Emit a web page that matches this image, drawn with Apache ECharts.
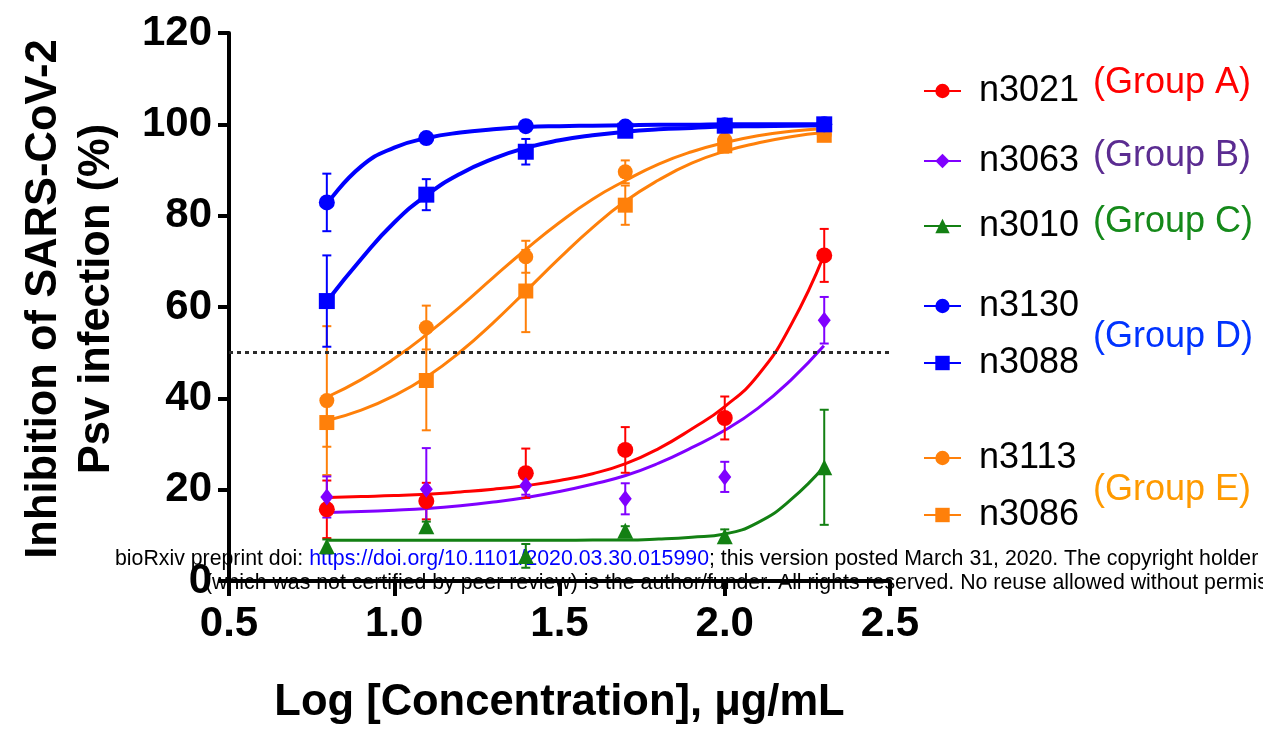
<!DOCTYPE html>
<html>
<head>
<meta charset="utf-8">
<script src="https://cdn.jsdelivr.net/npm/echarts@6/dist/echarts.min.js"></script>
<style>
  html, body { margin: 0; padding: 0; background: #ffffff; }
  #chart { width: 1263px; height: 730px; }
</style>
</head>
<body>
<div id="chart"></div>
<script>
// log10 of the tested concentrations (µg/mL)
const logConc = [0.796, 1.097, 1.398, 1.699, 2.0, 2.301];
// x positions at which the fitted dose-response curves are sampled
const fitX = [0.8, 0.9, 1.0, 1.1, 1.2, 1.3, 1.4, 1.5, 1.6, 1.7, 1.8, 1.9, 2.0, 2.1, 2.2, 2.3];

// mean inhibition (%), SD, and fitted curve per sample
const n3021Mean = [15.7, 17.5, 23.6, 28.7, 35.7, 71.3];
const n3021Sd   = [6.3, 4.0, 5.4, 5.0, 4.7, 5.8];
const n3021Fit  = [18.3, 18.5, 18.7, 19.0, 19.5, 20.1, 20.9, 22.0, 23.5, 25.7, 29.0, 33.3, 38.2, 45.0, 56.0, 71.3];

const n3063Mean = [18.4, 20.1, 20.9, 18.0, 22.8, 57.1];
const n3063Sd   = [4.5, 9.0, 2.0, 3.4, 3.3, 5.1];
const n3063Fit  = [15.0, 15.2, 15.5, 15.9, 16.5, 17.3, 18.3, 19.6, 21.2, 23.1, 25.8, 29.2, 33.0, 37.8, 44.0, 51.5];

const n3010Mean = [7.6, 12.0, 5.5, 11.0, 9.8, 24.9];
const n3010Sd   = [1.5, 1.0, 2.6, 1.0, 1.5, 12.6];
const n3010Fit  = [8.9, 8.9, 8.9, 8.9, 8.9, 8.9, 8.9, 8.9, 9.0, 9.0, 9.2, 9.6, 10.3, 12.8, 17.8, 25.0];

const n3130Mean = [82.9, 97.0, 99.6, 99.5, 99.8, 100.0];
const n3130Sd   = [6.3, 1.0, 0.6, 0.6, 0.4, 0.3];
const n3130Fit  = [82.9, 90.8, 94.9, 97.0, 98.2, 98.9, 99.4, 99.6, 99.7, 99.8, 99.9, 99.9, 100, 100, 100, 100];

const n3088Mean = [61.3, 84.6, 94.0, 98.6, 99.7, 100.0];
const n3088Sd   = [10.0, 3.4, 2.8, 1.2, 0.6, 0.5];
const n3088Fit  = [61.6, 70.5, 78.5, 84.6, 89.2, 92.5, 94.9, 96.5, 97.6, 98.4, 98.9, 99.2, 99.5, 99.6, 99.7, 99.8];

const n3113Mean = [39.5, 55.5, 71.0, 89.6, 96.6, 97.8];
const n3113Sd   = [16.3, 4.8, 3.5, 2.5, 1.0, 1.0];
const n3113Fit  = [40.4, 44.1, 48.7, 54.1, 60.1, 66.5, 72.7, 78.5, 83.6, 87.7, 91.3, 94.0, 96.0, 97.5, 98.5, 99.1];

const n3086Mean = [34.7, 43.9, 63.5, 82.3, 95.3, 97.6];
const n3086Sd   = [5.3, 10.9, 9.0, 4.3, 1.5, 1.0];
const n3086Fit  = [35.2, 37.4, 40.6, 44.8, 50.2, 56.6, 63.6, 70.7, 77.4, 83.2, 87.8, 91.5, 94.1, 95.9, 97.3, 98.2];

// axis ticks and the 50 % reference line
const xTicks = [0.5, 1.0, 1.5, 2.0, 2.5];
const yTicks = [0, 20, 40, 60, 80, 100, 120];
const halfMax = 50;

// legend names and the group captions beside them
const legendNames = ['n3021', 'n3063', 'n3010', 'n3130', 'n3088', 'n3113', 'n3086'];
const groupLabels = ['(Group A)', '(Group B)', '(Group C)', '(Group D)', '(Group E)'];

const FONT = "'Liberation Sans', Arial, Helvetica, sans-serif";

// drawing order: orange, red, purple, green, blue (blue ends on top)
const samples = [
  { name: 'n3113', mean: n3113Mean, sd: n3113Sd, fit: n3113Fit, color: '#FF800A', symbol: 'circle',   size: 15,       width: 3 },
  { name: 'n3086', mean: n3086Mean, sd: n3086Sd, fit: n3086Fit, color: '#FF800A', symbol: 'rect',     size: 15,       width: 3 },
  { name: 'n3021', mean: n3021Mean, sd: n3021Sd, fit: n3021Fit, color: '#FF0000', symbol: 'circle',   size: 16,       width: 3 },
  { name: 'n3063', mean: n3063Mean, sd: n3063Sd, fit: n3063Fit, color: '#8000FF', symbol: 'diamond',  size: [13, 17], width: 3 },
  { name: 'n3010', mean: n3010Mean, sd: n3010Sd, fit: n3010Fit, color: '#138013', symbol: 'triangle', size: 16,       width: 3 },
  { name: 'n3130', mean: n3130Mean, sd: n3130Sd, fit: n3130Fit, color: '#0000FF', symbol: 'circle',   size: 16,       width: 4 },
  { name: 'n3088', mean: n3088Mean, sd: n3088Sd, fit: n3088Fit, color: '#0000FF', symbol: 'rect',     size: 16,       width: 4 }
];

// fitted curves come first so the legend takes line + symbol from them
const curveSeries = samples.map(s => ({
  name: s.name,
  type: 'line',
  data: fitX.map((x, i) => [x, s.fit[i]]),
  smooth: 0.5,
  showSymbol: false,
  symbol: s.symbol,
  symbolSize: s.size,
  itemStyle: { color: s.color },
  lineStyle: { color: s.color, width: s.width },
  silent: true,
  z: 2
}));

// vertical SD bars with short caps
const errorSeries = samples.map(s => ({
  name: s.name,
  type: 'custom',
  data: logConc.map((x, i) => [x, s.mean[i], s.sd[i]]),
  encode: { x: 0, y: 1 },
  silent: true,
  z: 3,
  renderItem: function (params, api) {
    const x = api.value(0), y = api.value(1), e = api.value(2);
    const hi = api.coord([x, y + e]);
    const lo = api.coord([x, y - e]);
    const cap = 4.5;
    const st = { stroke: s.color, lineWidth: 2 };
    return {
      type: 'group',
      children: [
        { type: 'line', shape: { x1: hi[0], y1: hi[1], x2: lo[0], y2: lo[1] }, style: st },
        { type: 'line', shape: { x1: hi[0] - cap, y1: hi[1], x2: hi[0] + cap, y2: hi[1] }, style: st },
        { type: 'line', shape: { x1: lo[0] - cap, y1: lo[1], x2: lo[0] + cap, y2: lo[1] }, style: st }
      ]
    };
  }
}));

const pointSeries = samples.map((s, k) => {
  const ser = {
    name: s.name,
    type: 'scatter',
    data: logConc.map((x, i) => [x, s.mean[i]]),
    symbol: s.symbol,
    symbolSize: s.size,
    itemStyle: { color: s.color, opacity: 1 },
    silent: true,
    z: 4
  };
  if (k === 0) {
    ser.markLine = {
      silent: true,
      symbol: 'none',
      label: { show: false },
      lineStyle: { color: '#2b2b2b', width: 3, type: [4, 4] },
      data: [{ yAxis: halfMax }]
    };
  }
  return ser;
});

// legend rows: marker centre heights in px
const legendRowY = [82, 152, 217, 297, 354, 449, 506];
const legends = legendNames.map((name, i) => ({
  data: [name],
  left: 923,
  top: legendRowY[i] - 9,
  padding: 0,
  itemWidth: 37,
  itemHeight: 18,
  selectedMode: false,
  textStyle: { fontSize: 36, color: '#000000', fontFamily: FONT, padding: [0, 0, 0, 13] }
}));

// group captions: [text index, centre y, colour]
const groupRows = [[0, 83, '#FF0000'], [1, 156, '#5B2C91'], [2, 222, '#15891A'], [3, 337, '#0033FF'], [4, 490, '#FF9A00']];
const groupTexts = groupRows.map(r => ({
  type: 'text',
  x: 1093,
  y: r[1],
  silent: true,
  style: {
    text: groupLabels[r[0]],
    fill: r[2],
    fontSize: 36,
    fontFamily: FONT,
    align: 'left',
    verticalAlign: 'middle'
  }
}));

const preprintRich = {
  t: { fill: '#000000', color: '#000000', fontSize: 21.3, fontFamily: FONT },
  u: { fill: '#0000FF', color: '#0000FF', fontSize: 21.3, fontFamily: FONT }
};

const chart = echarts.init(document.getElementById('chart'), null, { renderer: 'canvas' });
chart.setOption({
  animation: false,
  backgroundColor: '#ffffff',
  grid: { left: 229, right: 373, top: 33, bottom: 140, containLabel: false },
  xAxis: {
    type: 'value',
    min: xTicks[0],
    max: xTicks[xTicks.length - 1],
    interval: xTicks[1] - xTicks[0],
    name: 'Log [Concentration], μg/mL',
    nameLocation: 'middle',
    nameGap: 100,
    nameTextStyle: { fontSize: 43.5, fontWeight: 'bold', color: '#000000', fontFamily: FONT },
    axisLine: { show: true, lineStyle: { color: '#000000', width: 4 } },
    axisTick: { show: true, length: 15, lineStyle: { color: '#000000', width: 4 } },
    axisLabel: {
      margin: 22,
      fontSize: 42,
      fontWeight: 'bold',
      color: '#000000',
      fontFamily: FONT,
      formatter: v => v.toFixed(1)
    },
    splitLine: { show: false }
  },
  yAxis: {
    type: 'value',
    min: yTicks[0],
    max: yTicks[yTicks.length - 1],
    interval: yTicks[1] - yTicks[0],
    axisLine: { show: true, lineStyle: { color: '#000000', width: 4 } },
    axisTick: { show: true, length: 11, lineStyle: { color: '#000000', width: 4 } },
    axisLabel: {
      margin: 17,
      fontSize: 42,
      fontWeight: 'bold',
      color: '#000000',
      fontFamily: FONT
    },
    splitLine: { show: false }
  },
  legend: legends,
  graphic: [
    {
      type: 'text',
      x: 70,
      y: 299,
      rotation: Math.PI / 2,
      silent: true,
      style: {
        text: 'Inhibition of SARS-CoV-2\nPsv infection (%)',
        fill: '#000000',
        fontSize: 43.5,
        fontWeight: 'bold',
        fontFamily: FONT,
        lineHeight: 53,
        align: 'center',
        verticalAlign: 'middle'
      }
    },
    {
      type: 'text',
      x: 115,
      y: 559,
      z: -1,
      silent: true,
      style: {
        text: '{t|bioRxiv preprint doi: }{u|https://doi.org/10.1101/2020.03.30.015990}{t|; this version posted March 31, 2020. The copyright holder}',
        rich: preprintRich,
        align: 'left',
        verticalAlign: 'middle'
      }
    },
    {
      type: 'text',
      x: 205,
      y: 583,
      z: -1,
      silent: true,
      style: {
        text: '{t|(which was not certified by peer review) is the author/funder. All rights reserved. No reuse allowed without permission.}',
        rich: preprintRich,
        align: 'left',
        verticalAlign: 'middle'
      }
    }
  ].concat(groupTexts),
  series: curveSeries.concat(errorSeries, pointSeries)
});
</script>
</body>
</html>
